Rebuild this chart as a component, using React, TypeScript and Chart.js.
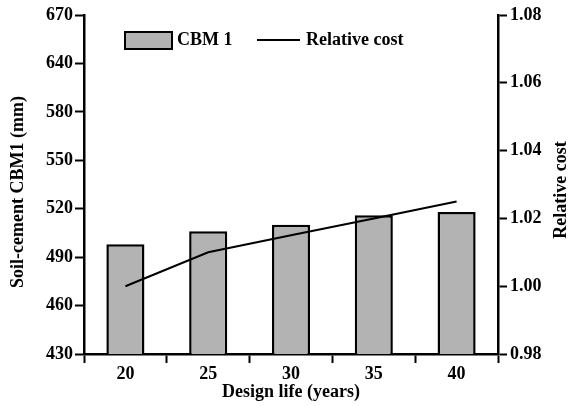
import React, { useEffect, useRef } from "react";
import { Chart, registerables } from "chart.js";

Chart.register(...registerables);

const categories = ["20", "25", "30", "35", "40"];
const cbmValues = [498, 506, 510, 516, 518];
const relativeCost = [1.0, 1.01, 1.015, 1.02, 1.025];
const leftTickLabels = ["430", "460", "490", "520", "550", "580", "640", "670"];
const rightTicks = [0.98, 1.0, 1.02, 1.04, 1.06, 1.08];

const FONT = "'Liberation Serif', 'Times New Roman', serif";

const overlay = {
  id: "overlay",
  afterDraw(chart: any) {
    const ctx = chart.ctx;
    const ca = chart.chartArea;
    ctx.save();
    ctx.fillStyle = "#000";
    ctx.font = `bold 18px ${FONT}`;
    ctx.textBaseline = "middle";
    // legend
    const ly = ca.top + 25;
    const bx = ca.left + 41;
    ctx.fillStyle = "#b3b3b3";
    ctx.fillRect(bx, ly - 8, 47, 17);
    ctx.strokeStyle = "#000";
    ctx.lineWidth = 2;
    ctx.strokeRect(bx, ly - 8, 47, 17);
    ctx.fillStyle = "#000";
    ctx.textAlign = "left";
    ctx.fillText("CBM 1", bx + 52, ly);
    ctx.beginPath();
    ctx.moveTo(ca.left + 173, ly);
    ctx.lineTo(ca.left + 216, ly);
    ctx.stroke();
    ctx.fillText("Relative cost", ca.left + 222, ly);
    // x title
    ctx.textAlign = "center";
    ctx.fillText("Design life (years)", (ca.left + ca.right) / 2, 392);
    // left title
    ctx.save();
    ctx.translate(18, 192);
    ctx.rotate(-Math.PI / 2);
    ctx.fillText("Soil-cement CBM1 (mm)", 0, 0);
    ctx.restore();
    // right title
    ctx.save();
    ctx.translate(561, 190);
    ctx.rotate(-Math.PI / 2);
    ctx.fillText("Relative cost", 0, 0);
    ctx.restore();
    ctx.restore();
  },
};

export default function App() {
  const ref = useRef<HTMLCanvasElement>(null);
  useEffect(() => {
    document.body.style.margin = "0";
    const tickFont = { family: FONT, size: 18, weight: "bold" as const };
    const chart = new Chart(ref.current!, {
      type: "bar",
      data: {
        labels: categories,
        datasets: [
          {
            type: "line",
            label: "Relative cost",
            data: relativeCost,
            yAxisID: "y1",
            borderColor: "#000",
            borderWidth: 2,
            pointRadius: 0,
            tension: 0,
            fill: false,
          } as any,
          {
            type: "bar",
            label: "CBM 1",
            data: cbmValues,
            yAxisID: "y",
            backgroundColor: "#b3b3b3",
            borderColor: "#000",
            borderWidth: 2.5,
            borderSkipped: false,
            barPercentage: 0.46,
            categoryPercentage: 1,
          },
        ],
      },
      options: {
        responsive: false,
        animation: false,
        layout: { padding: { top: 15, left: 0, right: 0, bottom: 0 } },
        plugins: { legend: { display: false }, tooltip: { enabled: false } },
        scales: {
          x: {
            offset: true,
            grid: {
              offset: true,
              drawOnChartArea: false,
              drawTicks: true,
              tickLength: 9,
              tickWidth: 2,
              tickColor: "#000",
            },
            border: { display: true, color: "#000", width: 2.5 },
            ticks: { color: "#000", font: tickFont, padding: 1 },
            afterFit(s: any) {
              s.height = 52;
            },
          },
          y: {
            position: "left",
            min: 430,
            max: 640,
            grid: {
              drawOnChartArea: false,
              drawTicks: true,
              tickLength: 9,
              tickWidth: 2,
              tickColor: "#000",
            },
            border: { display: true, color: "#000", width: 2.5 },
            ticks: {
              stepSize: 30,
              color: "#000",
              font: tickFont,
              padding: 2,
              callback: (_v: any, i: number) => leftTickLabels[i],
            },
            afterFit(s: any) {
              s.width = 84;
            },
          },
          y1: {
            position: "right",
            min: rightTicks[0],
            max: rightTicks[rightTicks.length - 1],
            grid: {
              drawOnChartArea: false,
              drawTicks: true,
              tickLength: 9,
              tickWidth: 2,
              tickColor: "#000",
            },
            border: { display: true, color: "#000", width: 2.5 },
            ticks: {
              stepSize: 0.02,
              color: "#000",
              font: tickFont,
              padding: 3,
              callback: (v: any) => Number(v).toFixed(2),
            },
            afterFit(s: any) {
              s.width = 74;
            },
          },
        },
      },
      plugins: [overlay],
    });
    return () => chart.destroy();
  }, []);
  return (
    <div style={{ position: "absolute", left: 0, top: 0, width: 572, height: 406 }}>
      <canvas ref={ref} width={572} height={406} />
    </div>
  );
}
